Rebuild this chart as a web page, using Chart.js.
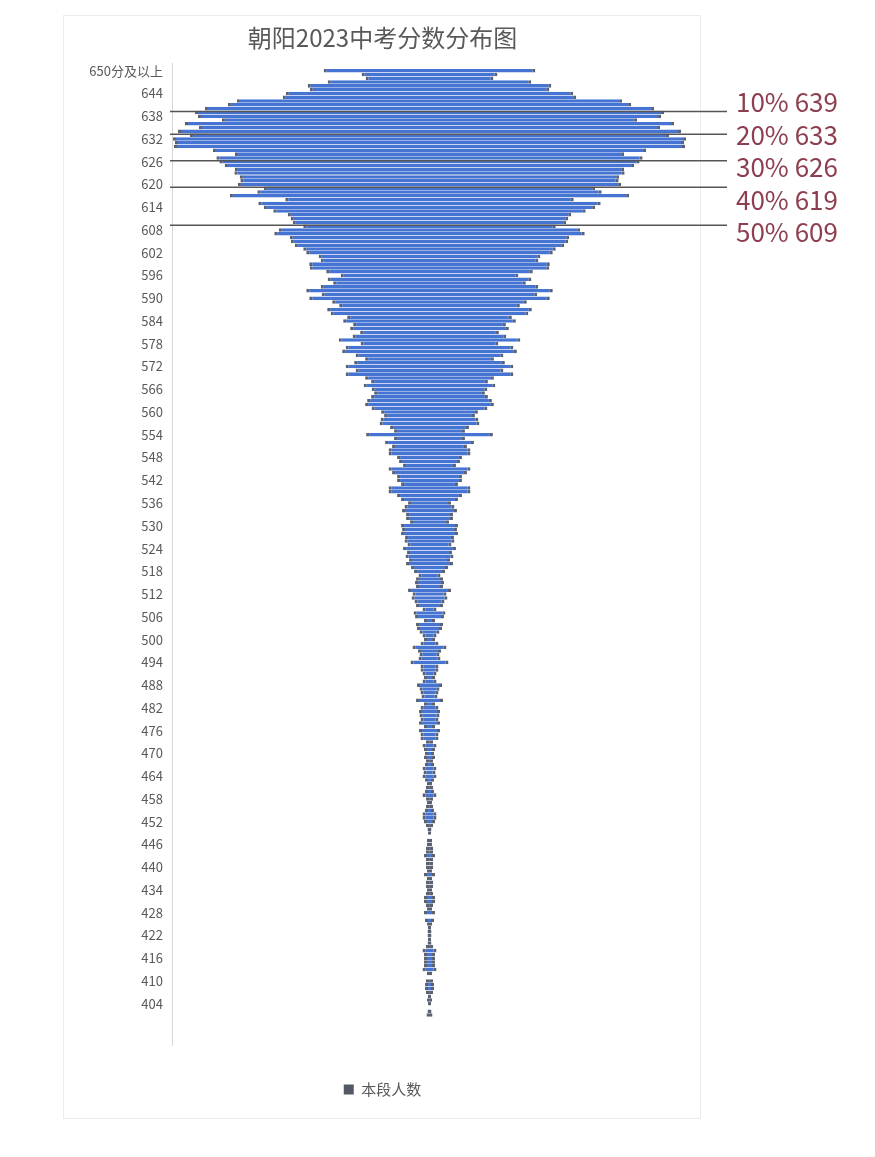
<!DOCTYPE html>
<html>
<head>
<meta charset="utf-8">
<script src="https://cdn.jsdelivr.net/npm/chart.js@4.4.1/dist/chart.umd.min.js"></script>
<style>
  html, body { margin: 0; padding: 0; background: #fff; }
  canvas { display: block; }
</style>
</head>
<body>
<canvas id="score-chart" width="875" height="1157"></canvas>
<script>
// 分数段：650分及以上, 649 ... 401
const scoreLabels = ['650分及以上'];
for (let s = 649; s >= 401; s--) scoreLabels.push(String(s));

// 本段人数
const counts = [
  212, 136, 128, 204, 244, 240, 288, 294, 386, 404,
  450, 470, 464, 416, 490, 462, 504, 480, 514, 510,
  512, 434, 390, 427, 421, 410, 390, 391, 380, 379,
  384, 332, 345, 400, 289, 343, 332, 313, 284, 278,
  274, 253, 302, 311, 280, 278, 270, 253, 247, 222,
  218, 241, 240, 207, 178, 204, 193, 218, 247, 216,
  241, 195, 181, 205, 198, 165, 173, 153, 159, 139,
  154, 182, 138, 168, 175, 148, 129, 151, 168, 148,
  168, 129, 117, 132, 116, 111, 117, 125, 129, 116,
  97, 91, 98, 100, 79, 71, 127, 71, 89, 75,
  82, 82, 65, 61, 53, 82, 75, 65, 65, 57,
  82, 82, 65, 57, 43, 50, 55, 47, 47, 39,
  57, 55, 57, 49, 50, 44, 53, 45, 48, 41,
  47, 37, 31, 22, 27, 29, 27, 43, 34, 36,
  30, 27, 14, 32, 29, 11, 27, 25, 20, 14,
  11, 18, 34, 23, 20, 22, 38, 18, 18, 14,
  11, 14, 25, 20, 18, 16, 27, 11, 18, 21,
  20, 18, 21, 11, 21, 18, 18, 7, 14, 11,
  9, 11, 7, 9, 14, 12, 14, 9, 5, 7,
  9, 14, 7, 5, 7, 9, 14, 14, 11, 7,
  4, 3, 0, 5, 5, 7, 7, 11, 7, 7,
  7, 5, 11, 5, 7, 7, 5, 7, 11, 11,
  7, 5, 11, 0, 9, 5, 3, 4, 4, 3,
  4, 7, 14, 11, 11, 11, 11, 14, 5, 0,
  7, 9, 9, 7, 3, 5, 3, 0, 4, 6
];

// 百分位标注
const pctNames = ['10%', '20%', '30%', '40%', '50%'];
const pctScores = [639, 633, 626, 619, 609];

const FONT = '"Noto Sans CJK SC", "Noto Sans", sans-serif';

// 居中显示：每段画成 [-n/2, n/2]
const barData = counts.map(n => [-n / 2, n / 2]);

const decorations = {
  id: 'decorations',
  beforeDraw(chart) {
    const { ctx, chartArea } = chart;
    ctx.save();
    ctx.fillStyle = '#fff';
    ctx.fillRect(0, 0, chart.width, chart.height);
    // 图表外框
    ctx.strokeStyle = '#ececec';
    ctx.lineWidth = 1;
    ctx.strokeRect(63.5, 15.5, 637, 1103);
    // 纵轴线
    ctx.strokeStyle = '#d6d6d6';
    ctx.beginPath();
    ctx.moveTo(chartArea.left + 0.5, chartArea.top - 6);
    ctx.lineTo(chartArea.left + 0.5, chartArea.bottom + 29);
    ctx.stroke();
    ctx.restore();
  },
  afterDatasetsDraw(chart) {
    const { ctx } = chart;
    const y = chart.scales.y;
    ctx.save();
    ctx.strokeStyle = '#555';
    ctx.lineWidth = 1.5;
    let firstY = null;
    pctScores.forEach((s, i) => {
      const py = y.getPixelForValue(scoreLabels.indexOf(String(s))) - 1;
      if (firstY === null) firstY = py;
      ctx.beginPath();
      ctx.moveTo(170, py);
      ctx.lineTo(727, py);
      ctx.stroke();
    });
    ctx.fillStyle = '#8d3f4f';
    ctx.font = '26px ' + FONT;
    ctx.textAlign = 'left';
    ctx.textBaseline = 'middle';
    pctNames.forEach((name, i) => {
      ctx.fillText(name + ' ' + pctScores[i], 736, firstY - 9 + i * 32.5);
    });
    ctx.restore();
  }
};

new Chart(document.getElementById('score-chart'), {
  type: 'bar',
  data: {
    labels: scoreLabels,
    datasets: [{
      label: '本段人数',
      data: barData,
      backgroundColor: '#4674d2',
      borderColor: '#5a6272',
      borderWidth: { left: 3, right: 3, top: 0, bottom: 0 },
      borderSkipped: false,
      barPercentage: 0.93,
      categoryPercentage: 1
    }]
  },
  options: {
    indexAxis: 'y',
    responsive: false,
    animation: false,
    layout: { padding: { left: 64, right: 174, top: 0, bottom: 50 } },
    scales: {
      x: {
        min: -258,
        max: 272,
        display: true,
        grid: { display: false },
        border: { display: false },
        ticks: { display: false },
        afterFit: s => { s.height = 55; }
      },
      y: {
        grid: { display: false, drawTicks: false },
        border: { display: false },
        afterFit: s => { s.width = 108; },
        ticks: {
          autoSkip: false,
          padding: 9,
          color: '#595959',
          font: { family: FONT, size: 13 },
          callback: (v, i) => (i % 6 === 0 ? scoreLabels[i] : '')
        }
      }
    },
    plugins: {
      title: {
        display: true,
        text: '朝阳2023中考分数分布图',
        color: '#595959',
        font: { family: FONT, size: 24, weight: 'normal' },
        padding: { top: 23, bottom: 17 }
      },
      legend: {
        position: 'bottom',
        labels: {
          color: '#595959',
          font: { family: FONT, size: 15 },
          boxWidth: 10,
          boxHeight: 10,
          generateLabels: () => [{
            text: '本段人数',
            fillStyle: '#525866',
            strokeStyle: '#525866',
            lineWidth: 0,
            fontColor: '#595959'
          }]
        }
      },
      tooltip: { enabled: false }
    }
  },
  plugins: [decorations]
});
</script>
</body>
</html>
